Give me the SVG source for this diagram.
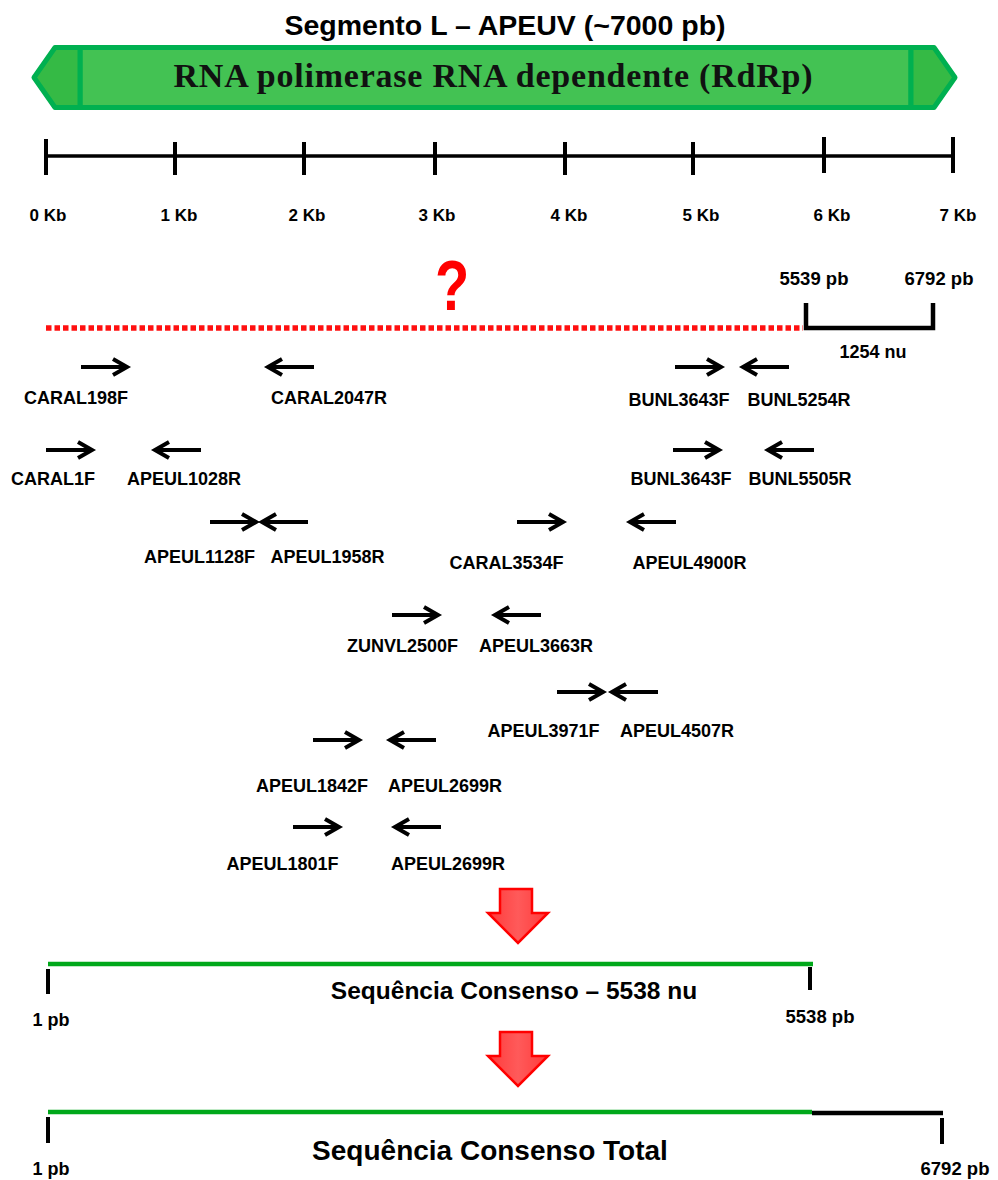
<svg xmlns="http://www.w3.org/2000/svg" xmlns:xlink="http://www.w3.org/1999/xlink" width="998" height="1180" viewBox="0 0 998 1180">
<style>
.t{font-family:"Liberation Sans",Arial,sans-serif;font-weight:bold;fill:#000}
.p{font-size:18px;text-anchor:middle}
.k{font-size:17px;text-anchor:middle}
.bk{stroke:#000;fill:none}
.gr{stroke:#00A81A;fill:none}
</style>
<defs>
<path id="fw" d="M0 0H46M32 -8L46 0L32 8" fill="none" stroke="#000" stroke-width="4" stroke-linejoin="miter"/>
<path id="rv" d="M0 0H-46M-32 -8L-46 0L-32 8" fill="none" stroke="#000" stroke-width="4" stroke-linejoin="miter"/>
<linearGradient id="rg" x1="0" y1="0" x2="1" y2="0">
<stop offset="0" stop-color="#FF3A3A"/><stop offset="0.5" stop-color="#FF5A5A"/><stop offset="1" stop-color="#FF3A3A"/>
</linearGradient>
<path id="da" d="M0 0H32V24H48L18 54L-12 24H0Z" fill="url(#rg)" stroke="#FF0000" stroke-width="2.5" stroke-linejoin="miter"/>
</defs>
<rect width="998" height="1180" fill="#fff"/>

<g id="title">
<text class="t" x="505" y="35" font-size="28.5" text-anchor="middle">Segmento L – APEUV (~7000 pb)</text>
</g>

<g id="banner">
<rect x="80" y="47.5" width="831" height="60" fill="#43C253" stroke="#00B050" stroke-width="5"/>
<polygon points="80,47.5 55,47.5 34,77.5 55,107.5 80,107.5" fill="#35BA45" stroke="#00B050" stroke-width="5" stroke-linejoin="round"/>
<polygon points="911,47.5 934,47.5 955,77.5 934,107.5 911,107.5" fill="#35BA45" stroke="#00B050" stroke-width="5" stroke-linejoin="round"/>
<text x="493" y="87" font-family="'Liberation Serif','Times New Roman',serif" font-size="34" font-weight="bold" text-anchor="middle" textLength="639" lengthAdjust="spacing" fill="#111">RNA polimerase RNA dependente (RdRp)</text>
</g>

<g id="scale">
<line class="bk" x1="46" y1="156" x2="955" y2="156" stroke-width="3.5"/>
<g class="bk" stroke-width="4">
<line x1="46" y1="139" x2="46" y2="175"/>
<line x1="175" y1="142" x2="175" y2="175"/>
<line x1="304" y1="142" x2="304" y2="175"/>
<line x1="435" y1="142" x2="435" y2="175"/>
<line x1="565" y1="142" x2="565" y2="175"/>
<line x1="693" y1="142" x2="693" y2="175"/>
<line x1="824" y1="137" x2="824" y2="173"/>
<line x1="953" y1="137" x2="953" y2="173"/>
</g>
<text class="t k" x="48" y="221">0 Kb</text>
<text class="t k" x="179" y="221">1 Kb</text>
<text class="t k" x="307" y="221">2 Kb</text>
<text class="t k" x="437" y="221">3 Kb</text>
<text class="t k" x="569" y="221">4 Kb</text>
<text class="t k" x="701" y="221">5 Kb</text>
<text class="t k" x="832" y="221">6 Kb</text>
<text class="t k" x="958" y="221">7 Kb</text>
</g>

<g id="unknown">
<text class="t" transform="translate(452,310) scale(0.8,1)" font-size="70" text-anchor="middle" style="fill:#FF0000">?</text>
<line x1="46" y1="328" x2="803" y2="328" stroke="#FF1010" stroke-width="5.5" stroke-dasharray="5.5 3"/>
</g>

<g id="known-end">
<polyline class="bk" points="806,303 806,328 933,328 933,303" stroke-width="4.5"/>
<text class="t" x="814" y="285" font-size="18.5" text-anchor="middle">5539 pb</text>
<text class="t" x="939" y="285" font-size="18.5" text-anchor="middle">6792 pb</text>
<text class="t" x="873" y="358" font-size="18" text-anchor="middle">1254 nu</text>
</g>

<g id="primer-CARAL198F"><use href="#fw" x="81" y="367"/><text class="t p" x="76" y="404">CARAL198F</text></g>
<g id="primer-CARAL2047R"><use href="#rv" x="314" y="367"/><text class="t p" x="329" y="404">CARAL2047R</text></g>
<g id="primer-BUNL3643F-1"><use href="#fw" x="675" y="367"/><text class="t p" x="679" y="406">BUNL3643F</text></g>
<g id="primer-BUNL5254R"><use href="#rv" x="789" y="367"/><text class="t p" x="799" y="406">BUNL5254R</text></g>

<g id="primer-CARAL1F"><use href="#fw" x="46" y="450"/><text class="t p" x="53" y="485">CARAL1F</text></g>
<g id="primer-APEUL1028R"><use href="#rv" x="201" y="450"/><text class="t p" x="184" y="485">APEUL1028R</text></g>
<g id="primer-BUNL3643F-2"><use href="#fw" x="673" y="450"/><text class="t p" x="681" y="485">BUNL3643F</text></g>
<g id="primer-BUNL5505R"><use href="#rv" x="814" y="450"/><text class="t p" x="800" y="485">BUNL5505R</text></g>

<g id="primer-APEUL1128F"><use href="#fw" x="210" y="522"/><text class="t p" x="199.5" y="563">APEUL1128F</text></g>
<g id="primer-APEUL1958R"><use href="#rv" x="308" y="522"/><text class="t p" x="327.5" y="563">APEUL1958R</text></g>
<g id="primer-CARAL3534F"><use href="#fw" x="517" y="522"/><text class="t p" x="506.5" y="569">CARAL3534F</text></g>
<g id="primer-APEUL4900R"><use href="#rv" x="676" y="522"/><text class="t p" x="689.5" y="569">APEUL4900R</text></g>

<g id="primer-ZUNVL2500F"><use href="#fw" x="392" y="615"/><text class="t p" x="402.5" y="652">ZUNVL2500F</text></g>
<g id="primer-APEUL3663R"><use href="#rv" x="541" y="615"/><text class="t p" x="536" y="652">APEUL3663R</text></g>

<g id="primer-APEUL3971F"><use href="#fw" x="557" y="692"/><text class="t p" x="543.5" y="737">APEUL3971F</text></g>
<g id="primer-APEUL4507R"><use href="#rv" x="658" y="692"/><text class="t p" x="677" y="737">APEUL4507R</text></g>

<g id="primer-APEUL1842F"><use href="#fw" x="313" y="740"/><text class="t p" x="312" y="792">APEUL1842F</text></g>
<g id="primer-APEUL2699R-1"><use href="#rv" x="436" y="740"/><text class="t p" x="445" y="792">APEUL2699R</text></g>

<g id="primer-APEUL1801F"><use href="#fw" x="293" y="827"/><text class="t p" x="282.5" y="870">APEUL1801F</text></g>
<g id="primer-APEUL2699R-2"><use href="#rv" x="441" y="827"/><text class="t p" x="448" y="870">APEUL2699R</text></g>

<g id="connectors">
<use href="#da" x="500" y="889"/>
<use href="#da" x="500" y="1032"/>
</g>

<g id="consensus-5538">
<line class="gr" x1="48" y1="964" x2="813" y2="964" stroke-width="4.5"/>
<line class="bk" x1="48" y1="969" x2="48" y2="994" stroke-width="4"/>
<line class="bk" x1="810" y1="967" x2="810" y2="990" stroke-width="4"/>
<text class="t" x="514" y="999" font-size="24.5" text-anchor="middle">Sequência Consenso – 5538 nu</text>
<text class="t" x="51" y="1026" font-size="18" text-anchor="middle">1 pb</text>
<text class="t" x="820" y="1023" font-size="18.5" text-anchor="middle">5538 pb</text>
</g>

<g id="consensus-total">
<line class="gr" x1="48" y1="1112" x2="812" y2="1112" stroke-width="4.5"/>
<line class="bk" x1="812" y1="1113" x2="943" y2="1113" stroke-width="4.5"/>
<line class="bk" x1="48" y1="1117" x2="48" y2="1143" stroke-width="4"/>
<line class="bk" x1="942" y1="1118" x2="942" y2="1144" stroke-width="4"/>
<text class="t" x="490" y="1160" font-size="28" text-anchor="middle">Sequência Consenso Total</text>
<text class="t" x="51" y="1175" font-size="18" text-anchor="middle">1 pb</text>
<text class="t" x="955" y="1175" font-size="18.5" text-anchor="middle">6792 pb</text>
</g>
</svg>
